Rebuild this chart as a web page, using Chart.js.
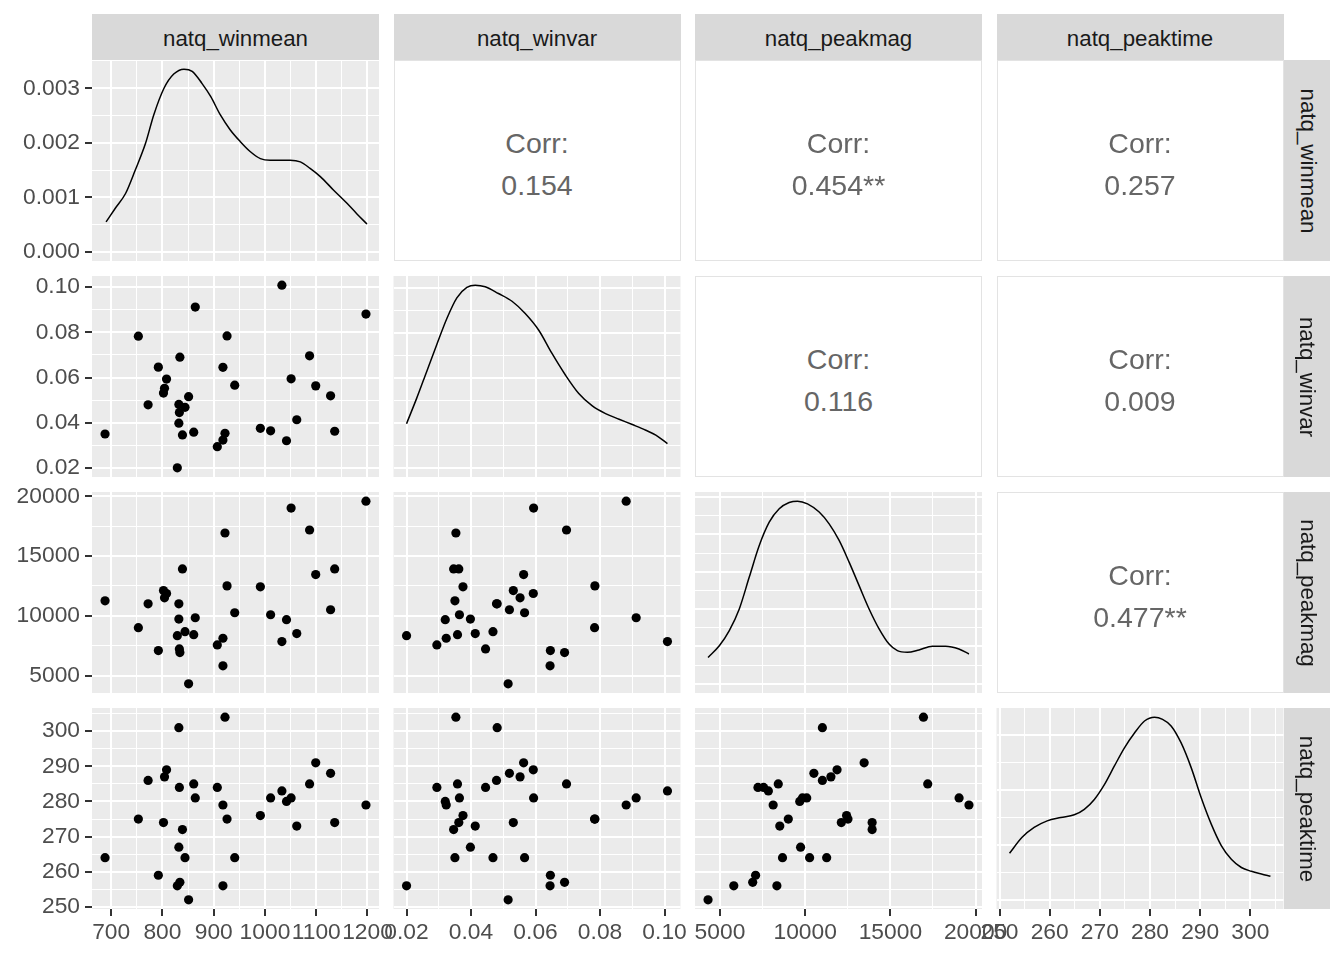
<!DOCTYPE html>
<html>
<head>
<meta charset="utf-8">
<title>natq pairs</title>
<script src="https://cdn.jsdelivr.net/npm/chart.js@4.4.0/dist/chart.umd.min.js"></script>
<style>
html, body { margin: 0; padding: 0; background: #fff; }
#wrap { position: relative; width: 1344px; height: 960px; overflow: hidden; font-family: "Liberation Sans", Arial, sans-serif; }
#wrap canvas { position: absolute; left: 0; top: 0; }
.strip { position: absolute; background: #D9D9D9; color: #1A1A1A; font-size: 22.3px; display: flex; align-items: center; justify-content: center; box-sizing: border-box; }
.strip.topstrip { padding-top: 4px; }
.strip.side { padding-left: 2px; }
.strip.side span { display: block; transform: rotate(90deg); white-space: nowrap; }
.corr { position: absolute; background: #fff; border: 1.5px solid #E3E3E3; box-sizing: border-box; color: #666666; font-size: 28.5px; }
.corr div { position: absolute; left: 0; width: 100%; height: 32px; line-height: 32px; text-align: center; }
</style>
</head>
<body>
<div id="wrap"></div>
<script>
// variables (one value per observation, same order in every array)
const varNames = ['natq_winmean', 'natq_winvar', 'natq_peakmag', 'natq_peaktime'];

const winmean = [1033, 1197, 864, 753, 926, 1087, 834, 792, 918, 1051, 808, 804, 802, 941, 1099, 1128, 851,
  772, 832, 844, 833, 832, 1062, 688, 839, 861, 922, 918, 907, 991, 1011, 1042, 1136, 829];
const winvar = [0.1009, 0.0881, 0.0912, 0.0783, 0.0784, 0.0696, 0.0690, 0.0646, 0.0645, 0.0594, 0.0593, 0.0552,
  0.0531, 0.0566, 0.0563, 0.0519, 0.0515, 0.0479, 0.0481, 0.0468, 0.0445, 0.0398, 0.0413, 0.0350, 0.0346,
  0.0358, 0.0353, 0.0323, 0.0294, 0.0375, 0.0364, 0.0320, 0.0362, 0.0200];
const peakmag = [7840, 19610, 9840, 9010, 12510, 17190, 6920, 7090, 5810, 19030, 11870, 11510, 12120, 10260,
  13460, 10510, 4300, 11010, 11010, 8670, 7230, 9730, 8510, 11260, 13930, 8420, 16940, 8120, 7560, 12430,
  10090, 9680, 13930, 8340];
const peaktime = [283, 279, 281, 275, 275, 285, 257, 259, 256, 281, 289, 287, 274, 264, 291, 288, 252, 286,
  301, 264, 284, 267, 273, 264, 272, 285, 304, 279, 284, 276, 281, 280, 274, 256];

// axis breaks
const winmeanTicks = [700, 800, 900, 1000, 1100, 1200];
const winvarTicks = [0.02, 0.04, 0.06, 0.08, 0.10];
const peakmagTicks = [5000, 10000, 15000, 20000];
const peaktimeTicks = [250, 260, 270, 280, 290, 300];
const tickDigits = [0, 2, 0, 0];

// density curves
const winmeanDensX = [690, 708, 728, 747, 767, 783, 803, 822, 842, 858, 877, 894, 913, 932, 952, 971, 991,
  1010, 1030, 1049, 1069, 1088, 1108, 1134, 1160, 1179, 1199];
const winmeanDensY = [0.00055, 0.00080, 0.00107, 0.00150, 0.00199, 0.00251, 0.00300, 0.00326, 0.00335,
  0.00331, 0.00309, 0.00285, 0.00251, 0.00224, 0.00202, 0.00184, 0.00171, 0.00168, 0.00168, 0.00168,
  0.00165, 0.00153, 0.00138, 0.00113, 0.00089, 0.00070, 0.00051];
const winvarDensX = [0.0200, 0.0231, 0.0262, 0.0293, 0.0325, 0.0356, 0.0387, 0.0413, 0.0444, 0.0485, 0.0527,
  0.0568, 0.0610, 0.0651, 0.0693, 0.0734, 0.0776, 0.0817, 0.0859, 0.0900, 0.0942, 0.0973, 0.1009];
const winvarDensY = [4.91, 7.69, 10.66, 13.62, 16.59, 18.88, 20.04, 20.30, 20.12, 19.37, 18.51, 17.15, 15.29,
  12.71, 10.29, 8.26, 6.88, 6.03, 5.40, 4.81, 4.18, 3.63, 2.70];
const peakmagDensX = [4300, 4961, 5547, 6133, 6719, 7305, 7890, 8476, 9062, 9550, 10136, 10820, 11406, 11992,
  12578, 13164, 13750, 14336, 14922, 15410, 15996, 16679, 17460, 18241, 19022, 19608];
const peakmagDensY = [1.77e-5, 2.55e-5, 3.56e-5, 5.01e-5, 7.14e-5, 9.25e-5, 10.81e-5, 11.71e-5, 12.13e-5,
  12.22e-5, 12.04e-5, 11.49e-5, 10.70e-5, 9.59e-5, 8.14e-5, 6.57e-5, 5.01e-5, 3.68e-5, 2.66e-5, 2.22e-5,
  2.11e-5, 2.27e-5, 2.52e-5, 2.52e-5, 2.33e-5, 2.00e-5];
const peaktimeDensX = [252, 254.5, 256.9, 259.5, 262.2, 264.9, 266.9, 268.9, 270.9, 272.9, 274.9, 276.9,
  278.9, 280.9, 282.5, 284.2, 286.2, 288.2, 290.2, 292.2, 294.2, 296.2, 298.2, 300.2, 302.2, 304];
const peaktimeDensY = [0.0085, 0.0114, 0.0132, 0.0144, 0.0150, 0.0155, 0.0165, 0.0183, 0.0210, 0.0244,
  0.0277, 0.0304, 0.0326, 0.0333, 0.0329, 0.0317, 0.0286, 0.0241, 0.0186, 0.0138, 0.0099, 0.0074, 0.0059,
  0.0052, 0.0047, 0.0043];
const densTicks = [
  [0, 0.001, 0.002, 0.003],
  [0, 5, 10, 15, 20],
  [0, 2.5e-5, 5e-5, 7.5e-5, 1e-4, 1.25e-4],
  [0, 0.01, 0.02, 0.03]
];

// upper triangle labels
const corrText = { '0,1': '0.154', '0,2': '0.454**', '0,3': '0.257', '1,2': '0.116', '1,3': '0.009', '2,3': '0.477**' };

const series = [winmean, winvar, peakmag, peaktime];
const varTicks = [winmeanTicks, winvarTicks, peakmagTicks, peaktimeTicks];
const densX = [winmeanDensX, winvarDensX, peakmagDensX, peaktimeDensX];
const densY = [winmeanDensY, winvarDensY, peakmagDensY, peaktimeDensY];

// page layout
const W = 1344, H = 960;
const colLeft = [92, 393.5, 695, 996.5], panelW = 287;
const rowTop = [60, 276, 492, 708], panelH = 201;
const FONT = "'Liberation Sans', Arial, sans-serif";

const wrap = document.getElementById('wrap');

function limits(arr) {
  const lo = Math.min(...arr), hi = Math.max(...arr), pad = (hi - lo) * 0.05;
  return [lo - pad, hi + pad];
}

function withMinors(majors, lim) {
  const step = majors[1] - majors[0];
  const out = majors.map(v => ({ value: v, isMinor: false }));
  [majors[0] - step / 2].concat(majors.map(v => v + step / 2)).forEach(v => out.push({ value: v, isMinor: true }));
  return out.filter(t => t.value >= lim[0] && t.value <= lim[1]).sort((a, b) => a.value - b.value);
}

function axis(ticks, lim, showLabels, digits, horizontal) {
  return {
    type: 'linear',
    min: lim[0],
    max: lim[1],
    afterBuildTicks: ax => { ax.ticks = ticks.map(t => ({ value: t.value, isMinor: t.isMinor })); },
    afterFit: ax => {
      if (horizontal) ax.height = showLabels ? 44 : 0;
      else ax.width = showLabels ? 92 : 0;
    },
    border: { display: false },
    grid: {
      color: '#FFFFFF',
      lineWidth: c => (c.tick && c.tick.isMinor ? 1 : 2),
      drawTicks: showLabels,
      tickLength: 7,
      tickWidth: 2,
      tickColor: c => (c.tick && c.tick.isMinor ? 'rgba(0,0,0,0)' : '#333333')
    },
    ticks: {
      display: showLabels,
      autoSkip: false,
      maxRotation: 0,
      minRotation: 0,
      padding: horizontal ? 3 : 5,
      color: '#4D4D4D',
      font: { family: FONT, size: 22.8 },
      callback: (v, i, ts) => (ts[i] && ts[i].isMinor ? '' : Number(v).toFixed(digits))
    }
  };
}

const panelBg = {
  id: 'panelBg',
  beforeDraw(chart) {
    const a = chart.chartArea, c = chart.ctx;
    c.save();
    c.fillStyle = '#EBEBEB';
    c.fillRect(a.left, a.top, a.right - a.left, a.bottom - a.top);
    c.restore();
  }
};

function addChart(row, col) {
  const canvas = document.createElement('canvas');
  canvas.width = W;
  canvas.height = H;
  wrap.appendChild(canvas);

  const xLim = limits(series[col]);
  const xAxis = axis(withMinors(varTicks[col], xLim), xLim, row === 3, tickDigits[col], true);
  let yAxis, dataset, type;

  if (row === col) {
    const peak = Math.max(...densY[col]);
    const yLim = [-0.05 * peak, 1.05 * peak];
    yAxis = axis(withMinors(densTicks[col], yLim), yLim, col === 0, 3, false);
    type = 'line';
    dataset = {
      data: densX[col].map((x, i) => ({ x: x, y: densY[col][i] })),
      borderColor: '#000000',
      borderWidth: 1.5,
      pointRadius: 0,
      fill: false,
      cubicInterpolationMode: 'monotone'
    };
  } else {
    const yLim = limits(series[row]);
    yAxis = axis(withMinors(varTicks[row], yLim), yLim, col === 0, tickDigits[row], false);
    type = 'scatter';
    dataset = {
      data: series[col].map((x, i) => ({ x: x, y: series[row][i] })),
      pointRadius: 4.6,
      pointBorderWidth: 0,
      pointBackgroundColor: '#000000'
    };
  }

  const yW = col === 0 ? 92 : 0;
  const xH = row === 3 ? 44 : 0;

  new Chart(canvas, {
    type: type,
    data: { datasets: [dataset] },
    options: {
      responsive: false,
      animation: false,
      events: [],
      devicePixelRatio: 1,
      layout: {
        padding: {
          left: colLeft[col] - yW,
          top: rowTop[row],
          right: W - colLeft[col] - panelW,
          bottom: H - rowTop[row] - panelH - xH
        }
      },
      plugins: { legend: { display: false }, tooltip: { enabled: false } },
      scales: { x: xAxis, y: yAxis }
    },
    plugins: [panelBg]
  });
}

function addCorr(row, col) {
  const box = document.createElement('div');
  box.className = 'corr';
  box.style.left = colLeft[col] + 'px';
  box.style.top = rowTop[row] + 'px';
  box.style.width = panelW + 'px';
  box.style.height = panelH + 'px';
  const a = document.createElement('div');
  a.textContent = 'Corr:';
  a.style.top = (82 - 16) + 'px';
  const b = document.createElement('div');
  b.textContent = corrText[row + ',' + col];
  b.style.top = (124 - 16) + 'px';
  box.appendChild(a);
  box.appendChild(b);
  wrap.appendChild(box);
}

function addStrips() {
  varNames.forEach((name, i) => {
    const top = document.createElement('div');
    top.className = 'strip topstrip';
    top.style.left = colLeft[i] + 'px';
    top.style.top = '14px';
    top.style.width = panelW + 'px';
    top.style.height = '46px';
    top.textContent = name;
    wrap.appendChild(top);

    const side = document.createElement('div');
    side.className = 'strip side';
    side.style.left = (colLeft[3] + panelW) + 'px';
    side.style.top = rowTop[i] + 'px';
    side.style.width = '46px';
    side.style.height = panelH + 'px';
    const s = document.createElement('span');
    s.textContent = name;
    side.appendChild(s);
    wrap.appendChild(side);
  });
}

for (let r = 0; r < 4; r++) {
  for (let c = 0; c < 4; c++) {
    if (c > r) addCorr(r, c);
    else addChart(r, c);
  }
}
addStrips();
</script>
</body>
</html>
